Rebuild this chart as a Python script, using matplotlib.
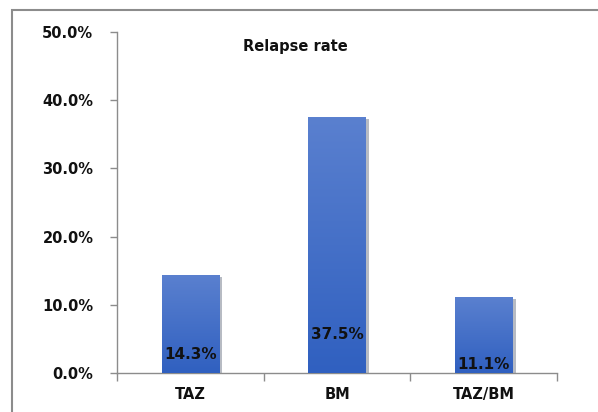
import numpy as np
import matplotlib
matplotlib.use("Agg")
import matplotlib.pyplot as plt
import matplotlib.patheffects as pe
from matplotlib.patches import Rectangle
from matplotlib.ticker import FuncFormatter

# данные
groups = ["TAZ", "BM", "TAZ/BM"]
relapse = [14.3, 37.5, 11.1]
value_labels = ["14.3%", "37.5%", "11.1%"]

# высота подписей внутри столбцов (в процентах по оси)
label_y = [2.7, 5.6, 1.2]

plt.rcParams["font.family"] = "DejaVu Sans"

fig = plt.figure(figsize=(5.98, 4.12), dpi=100)
ax = fig.add_axes([117 / 598, 1 - 373 / 412, 440 / 598, 341 / 412])

# рамка вокруг всей области
fig.patches.append(Rectangle((11.5 / 598, -0.2), 1.2, 1.2 - 10.5 / 412,
                             transform=fig.transFigure, fill=False,
                             edgecolor="#8c8c8c", lw=1.5))

x = np.arange(len(groups))
width = 0.39
bars = ax.bar(x, relapse, width, color="#3a66c4", zorder=2,
              path_effects=[pe.SimplePatchShadow(offset=(2.5, -1), alpha=0.3),
                            pe.Normal()])

# вертикальный градиент поверх каждого столбца
grad = np.linspace(0, 1, 256).reshape(-1, 1)
cmap = matplotlib.colors.LinearSegmentedColormap.from_list(
    "bar", ["#3060c0", "#5a80cf"])
for b in bars:
    x0, y0 = b.get_x(), b.get_y()
    im = ax.imshow(grad, extent=(x0, x0 + b.get_width(), y0, y0 + b.get_height()),
                   origin="lower", cmap=cmap, aspect="auto", zorder=3)
    im.set_clip_path(b)

for xi, ly, txt in zip(x, label_y, value_labels):
    ax.text(xi, ly, txt, ha="center", va="center", fontsize=11,
            fontweight="bold", color="#111111", zorder=4)

ax.set_xlim(-0.5, 2.5)
ax.set_ylim(0, 50)
ax.set_yticks(np.arange(0, 51, 10))
ax.yaxis.set_major_formatter(FuncFormatter(lambda v, _: f"{v:.1f}%"))

ax.set_xticks(x)
ax.set_xticklabels(groups)
ax.set_xticks(np.arange(-0.5, 2.6, 1), minor=True)
ax.tick_params(axis="x", which="major", length=0, pad=10)
ax.tick_params(axis="x", which="minor", length=6, color="#8c8c8c", width=1)
ax.tick_params(axis="y", length=5, color="#8c8c8c", width=1, pad=12)
for lab in ax.get_xticklabels() + ax.get_yticklabels():
    lab.set_fontweight("bold")
    lab.set_fontsize(10.5)
    lab.set_color("#111111")

for s in ["top", "right"]:
    ax.spines[s].set_visible(False)
for s in ["left", "bottom"]:
    ax.spines[s].set_color("#8c8c8c")
    ax.spines[s].set_linewidth(1)

fig.text(295 / 598, 1 - 46 / 412, "Relapse rate", ha="center", va="center",
         fontsize=10.5, fontweight="bold", color="#111111")

fig.savefig("out.png", dpi=100)
